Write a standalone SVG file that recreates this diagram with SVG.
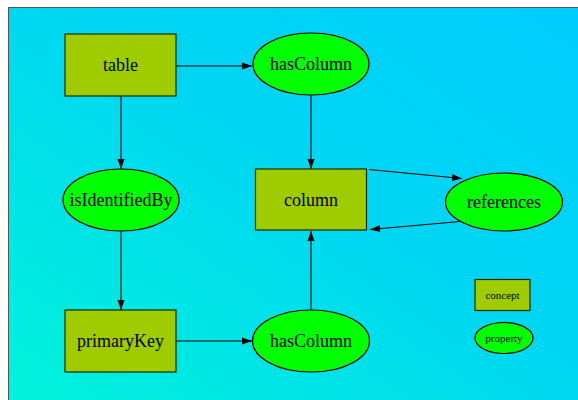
<svg xmlns="http://www.w3.org/2000/svg" width="578" height="400" viewBox="0 0 578 400">
<defs>
<linearGradient id="bg" x1="0" y1="1" x2="1" y2="0">
<stop offset="0" stop-color="#00f3da"/>
<stop offset="0.55" stop-color="#00d6f2"/>
<stop offset="1" stop-color="#00ccff"/>
</linearGradient>
<marker id="arr" viewBox="0 0 10 10" refX="10" refY="5" markerWidth="10" markerHeight="10" markerUnits="userSpaceOnUse" orient="auto">
<path d="M0,1.5 L10,5 L0,8.5 Z" fill="#000"/>
</marker>
<style>
.concept{fill:#9fcc00;stroke:#1a2a00;stroke-width:1.2}
.property{fill:#00ff00;stroke:#000;stroke-width:1.2}
.lbl{font-family:"Liberation Serif","Times New Roman",serif;font-size:18px;fill:#000;text-anchor:middle;dominant-baseline:central}
.sm{font-size:11px}
.edge{stroke:#000;stroke-width:1.1;fill:none;marker-end:url(#arr)}
</style>
</defs>
<rect x="0" y="0" width="578" height="400" fill="#fff"/>
<rect x="8.5" y="7.5" width="580" height="400" fill="url(#bg)" stroke="#555" stroke-width="1"/>
<g id="connectors">
<line class="edge" x1="176" y1="66" x2="252" y2="66"/>
<line class="edge" x1="311" y1="95" x2="311" y2="169"/>
<line class="edge" x1="121" y1="96" x2="121" y2="169"/>
<line class="edge" x1="121" y1="231" x2="121" y2="310"/>
<line class="edge" x1="176" y1="341" x2="252" y2="341"/>
<line class="edge" x1="311" y1="310" x2="311" y2="231"/>
<line class="edge" x1="369" y1="169.5" x2="462" y2="178.5"/>
<line class="edge" x1="460" y1="221.5" x2="370" y2="229.5"/>
</g>
<g id="table">
<rect class="concept" x="65" y="34" width="111" height="62"/>
<text class="lbl" x="120.5" y="65">table</text>
</g>
<g id="hasColumn1">
<ellipse class="property" cx="311" cy="64" rx="58" ry="31"/>
<text class="lbl" x="311" y="64">hasColumn</text>
</g>
<g id="column">
<rect class="concept" x="255.5" y="169" width="111" height="61"/>
<text class="lbl" x="311" y="200">column</text>
</g>
<g id="references">
<ellipse class="property" cx="504" cy="202" rx="58.5" ry="29"/>
<text class="lbl" x="504" y="202">references</text>
</g>
<g id="isIdentifiedBy">
<ellipse class="property" cx="121" cy="200" rx="58" ry="31"/>
<text class="lbl" x="121" y="200">isIdentifiedBy</text>
</g>
<g id="primaryKey">
<rect class="concept" x="65" y="310" width="111" height="62"/>
<text class="lbl" x="120.5" y="341">primaryKey</text>
</g>
<g id="hasColumn2">
<ellipse class="property" cx="311" cy="341" rx="58.5" ry="31"/>
<text class="lbl" x="311" y="341">hasColumn</text>
</g>
<g id="legend-concept">
<rect class="concept" x="475" y="279.5" width="55" height="31"/>
<text class="lbl sm" x="502.5" y="295">concept</text>
</g>
<g id="legend-property">
<ellipse class="property" cx="504" cy="338" rx="29" ry="15.5"/>
<text class="lbl sm" x="504" y="338">property</text>
</g>
</svg>
